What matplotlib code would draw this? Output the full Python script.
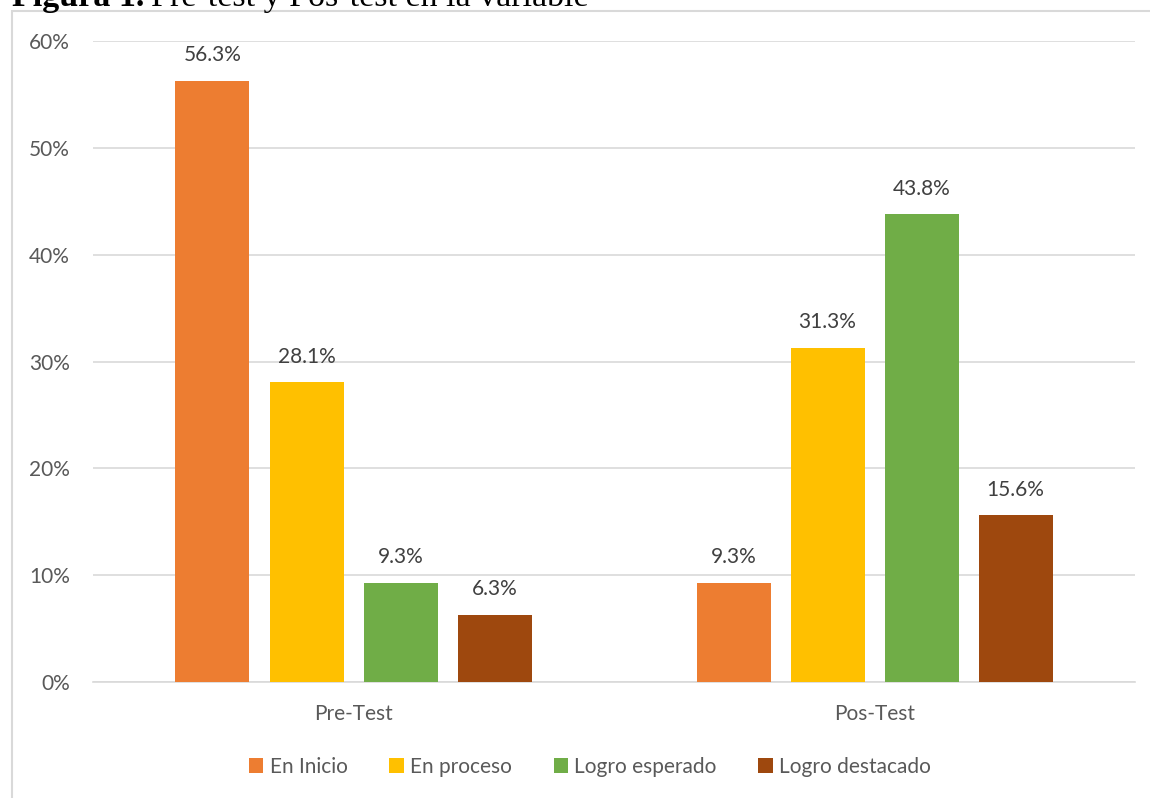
import matplotlib
matplotlib.use("Agg")
import matplotlib.pyplot as plt
from matplotlib.patches import Rectangle, Patch
import numpy as np

categories = ["Pre-Test", "Pos-Test"]
series_names = ["En Inicio", "En proceso", "Logro esperado", "Logro destacado"]
en_inicio = [56.3, 9.3]
en_proceso = [28.1, 31.3]
logro_esperado = [9.3, 43.8]
logro_destacado = [6.3, 15.6]
yticks = [0, 10, 20, 30, 40, 50, 60]
colors = ["#ED7D31", "#FFC000", "#70AD47", "#9E480E"]

W, H = 1150, 798
fig = plt.figure(figsize=(W/100, H/100), dpi=100)
font = "Lato"
tc = "#595959"
fs = 15

# outer border
fig.patches.append(Rectangle((12/W, -0.1), 1.2, 1.1 - 11/H, transform=fig.transFigure,
                             fill=False, edgecolor="#d9d9d9", linewidth=1.5))
# cut-off title
t1 = fig.text(12/W, 1 - 6/H, "Figura 1.", fontfamily="Liberation Serif", fontweight="bold",
              fontsize=24.5, va="baseline", ha="left", color="black")
renderer = fig.canvas.get_renderer()
bb = t1.get_window_extent(renderer)
fig.text((bb.x1 + 7)/W, 1 - 6/H, "Pre-test y Pos-test en la variable",
         fontfamily="Liberation Serif", fontsize=24.5, va="baseline", ha="left", color="black")

left, right = 93, 1135
top, bottom = 41, 682
ax = fig.add_axes([left/W, 1 - bottom/H, (right-left)/W, (bottom-top)/H])
ax.set_xlim(-0.5, 1.5)
ax.set_ylim(0, 60)

series = [en_inicio, en_proceso, logro_esperado, logro_destacado]
x = np.arange(len(categories))
width = 74/521
step = 94/521
for i, (vals, c, name) in enumerate(zip(series, colors, series_names)):
    pos = x + (i - 1.5) * step
    ax.bar(pos, vals, width=width, color=c, label=name, zorder=3)
    for xb, v in zip(pos, vals):
        ax.annotate(f"{v:.1f}%", (xb, v), xytext=(0, 11), textcoords="offset points",
                    ha="center", va="bottom", fontsize=fs, color="#404040", fontfamily=font)

ax.set_yticks(yticks)
ax.set_yticklabels([f"{t}%" for t in yticks])
ax.yaxis.grid(True, color="#d9d9d9", linewidth=1.2, zorder=0)
ax.set_axisbelow(True)
for s in ["top", "right", "left"]:
    ax.spines[s].set_visible(False)
ax.spines["bottom"].set_color("#d9d9d9")
ax.spines["bottom"].set_linewidth(1.2)
ax.tick_params(axis="y", length=0, pad=16.5, labelsize=fs, labelcolor=tc)
ax.tick_params(axis="x", length=0, pad=16, labelsize=fs, labelcolor=tc)
ax.set_xticks(x)
ax.set_xticklabels(categories)
for lab in ax.get_xticklabels() + ax.get_yticklabels():
    lab.set_fontfamily(font)

handles = [Patch(facecolor=c, label=n) for c, n in zip(colors, series_names)]
fig.legend(handles=handles, loc="center", bbox_to_anchor=(590/W, 1 - 767/H), ncol=4,
           frameon=False, prop={"family": font, "size": fs}, labelcolor=tc,
           handlelength=0.7, handleheight=0.7, handletextpad=0.3, columnspacing=2.0)

fig.savefig("out.png", dpi=100)
